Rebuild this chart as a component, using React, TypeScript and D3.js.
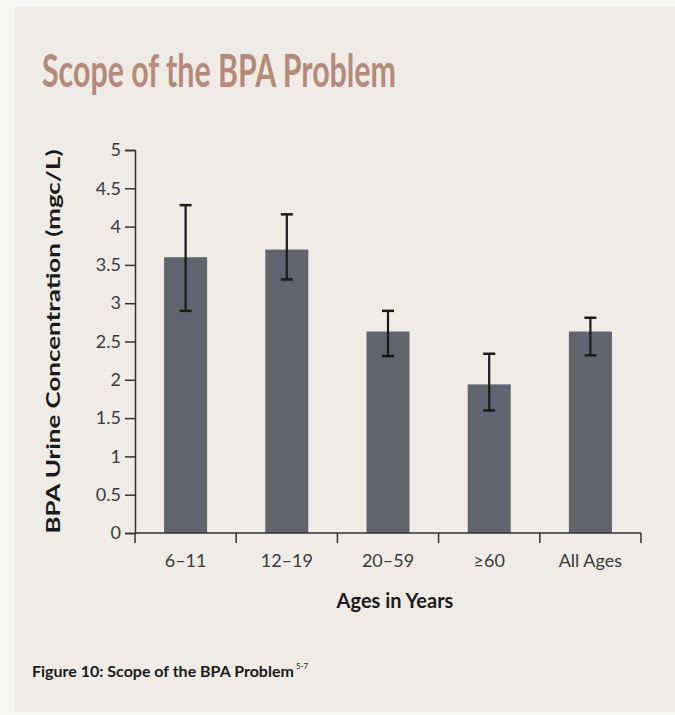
import React, { useEffect, useRef } from 'react';
import * as d3 from 'd3';

const ageGroups = ['6–11', '12–19', '20–59', '≥60', 'All Ages'];
const meanValues = [3.6, 3.7, 2.63, 1.94, 2.63];
const errorLow = [2.9, 3.31, 2.31, 1.6, 2.32];
const errorHigh = [4.28, 4.16, 2.9, 2.34, 2.81];
const yTicks = [0, 0.5, 1, 1.5, 2, 2.5, 3, 3.5, 4, 4.5, 5];

const width = 675;
const height = 715;
const font = 'Lato, "Open Sans", sans-serif';

const App: React.FC = () => {
  const svgRef = useRef<SVGSVGElement>(null);

  useEffect(() => {
    if (!svgRef.current) return;
    const margin = { top: 150, right: 34, bottom: 182, left: 135 };
    const innerW = width - margin.left - margin.right;
    const innerH = height - margin.top - margin.bottom;

    d3.select(svgRef.current).selectAll('*').remove();
    const root = d3.select(svgRef.current);

    // page background and panel
    root.append('rect').attr('width', width).attr('height', height).attr('fill', '#f6f6f5');
    root.append('rect').attr('x', 15).attr('y', 7).attr('width', width - 15).attr('height', height - 10).attr('fill', '#efece5');

    root
      .append('text')
      .attr('x', 42)
      .attr('y', 87)
      .attr('font-family', font)
      .attr('font-weight', 'bold')
      .attr('font-size', 46)
      .attr('fill', '#b58a7a')
      .attr('textLength', 354)
      .attr('lengthAdjust', 'spacingAndGlyphs')
      .text('Scope of the BPA Problem');

    const svg = root.append('g').attr('transform', `translate(${margin.left}, ${margin.top})`);

    const xScale = d3.scaleBand<string>().domain(ageGroups).range([0, innerW]).paddingInner(0.575).paddingOuter(0.2875);
    const yScale = d3.scaleLinear().domain([0, 5]).range([innerH, 0]);

    // bars
    svg
      .selectAll('rect.bar')
      .data(ageGroups)
      .enter()
      .append('rect')
      .attr('class', 'bar')
      .attr('x', (d) => xScale(d)!)
      .attr('width', xScale.bandwidth())
      .attr('y', (d, i) => yScale(meanValues[i]))
      .attr('height', (d, i) => innerH - yScale(meanValues[i]))
      .attr('fill', '#62636f');

    // error bars
    const err = svg.append('g').attr('stroke', '#1a1a1a').attr('stroke-width', 2.2);
    ageGroups.forEach((g, i) => {
      const cx = xScale(g)! + xScale.bandwidth() / 2;
      err.append('line').attr('x1', cx).attr('x2', cx).attr('y1', yScale(errorLow[i])).attr('y2', yScale(errorHigh[i]));
      [errorLow[i], errorHigh[i]].forEach((v) => {
        err.append('line').attr('x1', cx - 6).attr('x2', cx + 6).attr('y1', yScale(v)).attr('y2', yScale(v)).attr('stroke-width', 2.5);
      });
    });

    // y axis
    const yAxis = svg
      .append('g')
      .call(d3.axisLeft(yScale).tickValues(yTicks).tickSize(10).tickPadding(4).tickFormat((d) => String(d)));
    yAxis.select('.domain').attr('stroke', '#333').attr('stroke-width', 1.5);
    yAxis.selectAll('.tick line').attr('stroke', '#333').attr('stroke-width', 1.5);
    yAxis.selectAll('.tick text').attr('font-family', font).attr('font-size', 18).attr('fill', '#3a3a3a');

    // x axis with ticks at band edges
    svg.append('line').attr('x1', 0).attr('x2', innerW).attr('y1', innerH).attr('y2', innerH).attr('stroke', '#333').attr('stroke-width', 1.5);
    const step = xScale.step();
    const edges = d3.range(ageGroups.length + 1).map((i) => i * step);
    svg
      .selectAll('line.xtick')
      .data(edges)
      .enter()
      .append('line')
      .attr('x1', (d) => d)
      .attr('x2', (d) => d)
      .attr('y1', innerH)
      .attr('y2', innerH + 10)
      .attr('stroke', '#333')
      .attr('stroke-width', 1.5);
    svg
      .selectAll('text.xlabel')
      .data(ageGroups)
      .enter()
      .append('text')
      .attr('x', (d) => xScale(d)! + xScale.bandwidth() / 2)
      .attr('y', innerH + 34)
      .attr('text-anchor', 'middle')
      .attr('font-family', font)
      .attr('font-size', 18)
      .attr('fill', '#3a3a3a')
      .text((d) => d);

    svg
      .append('text')
      .attr('x', innerW / 2 + 7)
      .attr('y', innerH + 75)
      .attr('text-anchor', 'middle')
      .attr('font-family', font)
      .attr('font-weight', 'bold')
      .attr('font-size', 20)
      .attr('fill', '#1a1a1a')
      .text('Ages in Years');

    root
      .append('text')
      .attr('transform', `translate(60, ${margin.top + innerH / 2}) rotate(-90)`)
      .attr('text-anchor', 'middle')
      .attr('font-family', font)
      .attr('font-weight', 'bold')
      .attr('font-size', 19)
      .attr('fill', '#1a1a1a')
      .attr('textLength', 384)
      .attr('lengthAdjust', 'spacingAndGlyphs')
      .text('BPA Urine Concentration (mgc/L)');

    // caption with superscript reference
    const caption = root
      .append('text')
      .attr('x', 32)
      .attr('y', 677)
      .attr('font-family', font)
      .attr('font-weight', 'bold')
      .attr('font-size', 16)
      .attr('fill', '#1a1a1a')
      .text('Figure 10: Scope of the BPA Problem');
    const capLen = (caption.node() as SVGTextElement).getComputedTextLength();
    root
      .append('text')
      .attr('x', 32 + capLen + 2)
      .attr('y', 669)
      .attr('font-family', font)
      .attr('font-size', 8)
      .attr('fill', '#1a1a1a')
      .text('5-7');
  }, []);

  return (
    <div style={{ position: 'absolute', left: 0, top: 0 }}>
      <svg ref={svgRef} width={width} height={height}></svg>
    </div>
  );
};

export default App;
